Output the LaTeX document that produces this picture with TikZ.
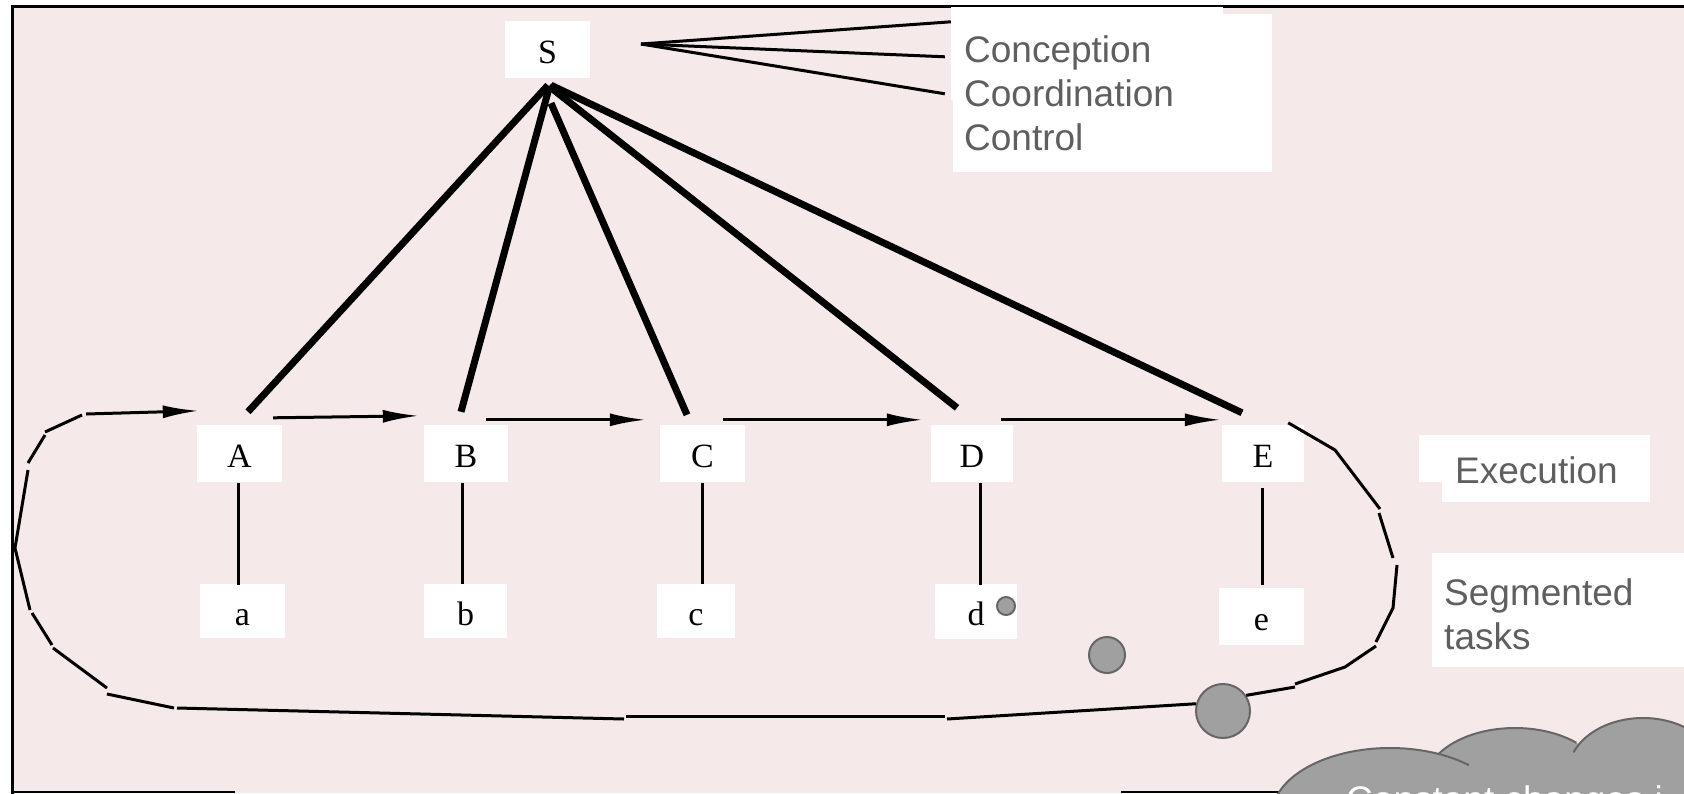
\documentclass[tikz,border=0pt]{standalone}
\usepackage{fontspec}
\setmainfont{Liberation Serif}
\newfontfamily\arialf{Liberation Sans}
\usetikzlibrary{arrows.meta}
\definecolor{bgpink}{RGB}{245,233,234}
\definecolor{txtgray}{RGB}{95,95,95}
\definecolor{fillgray}{RGB}{160,160,160}
\definecolor{edgegray}{RGB}{102,102,102}
\begin{document}
\begin{tikzpicture}[x=1pt,y=-1pt,
  letterbox/.style={fill=white, inner sep=0pt, minimum height=57pt, text height=28pt, text depth=0pt, font=\fontsize{34pt}{40pt}\selectfont},
  whitebox/.style={fill=white, inner sep=0pt},
  sanslabel/.style={text=txtgray, inner sep=0pt, anchor=base west, font=\arialf\fontsize{37pt}{44pt}\selectfont},
  thickline/.style={line width=7pt},
  thinline/.style={line width=3pt},
  arr/.style={line width=3pt, -{Latex[length=36pt,width=13pt]}},
  loopseg/.style={line width=3pt},
  bubble/.style={circle, fill=fillgray, draw=edgegray, line width=2pt, inner sep=0pt},
  cloudline/.style={draw=edgegray, line width=2pt}]
\useasboundingbox (0,0) rectangle (1684,793);
% background and frame
\fill[white] (0,0) rectangle (1684,793);
\fill[bgpink] (12,6) rectangle (1684,793);
\draw[line width=3pt] (12,794) -- (12,6) -- (1684,6);
\draw[line width=2.5pt] (11,792) -- (235,792);
\draw[line width=2.5pt] (1121,792) -- (1300,792);
% label boxes
\fill[white] (951,7) rectangle (1223,100);
\node[whitebox, minimum width=319pt, minimum height=158pt] (ccc) at (1112.5,93) {};
\node[sanslabel] (conc) at (964,62) {Conception};
\node[sanslabel] (coor) at (964,106) {Coordination};
\node[sanslabel] (cont) at (964,150) {Control};
\fill[white] (1419,435) rectangle (1650,482);
\node[whitebox, minimum width=208pt, minimum height=67pt] (exbox) at (1546,468.5) {};
\node[sanslabel] (ex) at (1455,483) {Execution};
\node[whitebox, minimum width=252pt, minimum height=114pt] (segbox) at (1558,610) {};
\node[sanslabel] (seg) at (1444,605) {Segmented};
\node[sanslabel] (tasks) at (1444,649) {tasks};
% nodes
\node[letterbox, minimum width=85pt] (S) at (547.5,49.5) {S};
\node[letterbox, minimum width=85pt] (A) at (239.5,453.5) {A};
\node[letterbox, minimum width=84pt] (B) at (466,453.5) {B};
\node[letterbox, minimum width=85pt] (C) at (702.5,453.5) {C};
\node[letterbox, minimum width=82pt] (D) at (972,453.5) {D};
\node[letterbox, minimum width=82pt] (E) at (1263,453.5) {E};
\node[letterbox, minimum width=85pt, minimum height=54pt] (a) at (242.5,611) {a};
\node[letterbox, minimum width=83pt, minimum height=54pt] (b) at (465.5,611) {b};
\node[letterbox, minimum width=78pt, minimum height=54pt] (c) at (696,611) {c};
\node[letterbox, minimum width=82pt, minimum height=55pt] (d) at (976,611.5) {d};
\node[letterbox, minimum width=85pt, minimum height=57pt] (e) at (1261.5,616.5) {e};
% fan lines from S to labels
\coordinate (fan) at (641,44);
\draw[thinline] (fan) -- ([shift={(-2,8)}]ccc.north west);
\draw[thinline] (fan) -- ([shift={(-8,43)}]ccc.north west);
\draw[thinline] (fan) -- ([shift={(-8,80)}]ccc.north west);
% thick lines
\draw[thickline] ([shift={(0.5,7)}]S.south) -- ([shift={(8.5,-13)}]A.north);
\draw[thickline] ([shift={(1.5,10)}]S.south) -- ([shift={(-5,-13)}]B.north);
\draw[thickline] ([shift={(3.5,25)}]S.south) -- ([shift={(-15.5,-10)}]C.north);
\draw[thickline] ([shift={(1.5,8)}]S.south) -- ([shift={(-15,-17)}]D.north);
\draw[thickline] ([shift={(3.5,7)}]S.south) -- ([shift={(-21,-12)}]E.north);
% arrows
\draw[arr] ([shift={(-9,-7)}]A.north east) -- ([shift={(-5,-9)}]B.north west);
\draw[arr] ([shift={(-22,-5)}]B.north east) -- ([shift={(-14,-5)}]C.north west);
\draw[arr] ([shift={(-22,-5)}]C.north east) -- ([shift={(-8,-5)}]D.north west);
\draw[arr] ([shift={(-12,-5)}]D.north east) -- ([shift={(-1,-5)}]E.north west);
% vertical lines
\draw[thinline] ([shift={(-1.5,1)}]A.south) -- ([shift={(-4.5,1)}]a.north);
\draw[thinline] ([shift={(-4,1)}]B.south) -- ([shift={(-3.5,0)}]b.north);
\draw[thinline] ([shift={(-0.5,1)}]C.south) -- ([shift={(6,0)}]c.north);
\draw[thinline] ([shift={(8,1)}]D.south) -- ([shift={(4,1)}]d.north);
\draw[thinline] ([shift={(-1,6)}]E.south) -- ([shift={(0.5,-3)}]e.north);
% circles
\node[bubble, minimum size=18pt] (sc) at (1006,606) {};
\node[bubble, minimum size=36pt] (mc) at (1107,655) {};
\node[bubble, minimum size=54pt] (bigc) at (1223,711) {};
% segmented loop
\draw[loopseg] ([shift={(-16,-2)}]E.north east) -- (1335,450) -- (1380,509);
\draw[loopseg] (1379,513) -- (1393,558);
\draw[loopseg] (1397,565) -- (1393,608) -- (1376,642);
\draw[loopseg] (1376,646) -- (1345,667) -- (1295,684);
\draw[loopseg] (1295,687) -- (bigc.34);
\draw[loopseg] (bigc.165) -- (947,719);
\draw[loopseg] (945,716) -- (626,716);
\draw[loopseg] (624,719) -- (177,708);
\draw[loopseg] (174,708) -- (107,694);
\draw[loopseg] (107,688) -- (53,648);
\draw[loopseg] (52,645) -- (32,613);
\draw[loopseg] (30,610) -- (15,548) -- (28,470);
\draw[loopseg] (28,463) -- (45,435);
\draw[loopseg] (45,432) -- (82,415);
\coordinate (loopend) at (86,414);
\draw[arr] (loopend) -- ([shift={(2,-14)}]A.north west);
% cloud
\coordinate (cl1) at (1390,815);
\coordinate (cl2) at (1515,783);
\coordinate (cl3) at (1643,773);
\fill[fillgray] (cl1) ellipse[x radius=118pt, y radius=67pt];
\fill[fillgray] (cl2) ellipse[x radius=90pt, y radius=55pt];
\fill[fillgray] (cl3) ellipse[x radius=75pt, y radius=55pt];
\draw[cloudline] ([shift={(165:118pt and 67pt)}]cl1) arc[start angle=165, end angle=48, x radius=118pt, y radius=67pt];
\draw[cloudline] ([shift={(148:90pt and 55pt)}]cl2) arc[start angle=148, end angle=47, x radius=90pt, y radius=55pt];
\draw[cloudline] ([shift={(158:75pt and 55pt)}]cl3) arc[start angle=158, end angle=20, x radius=75pt, y radius=55pt];
\node[anchor=base west, text=white, inner sep=0pt, font=\arialf\fontsize{37pt}{44pt}\selectfont] (cloudtxt) at (1346,812) {Constant changes i};
\end{tikzpicture}
\end{document}
